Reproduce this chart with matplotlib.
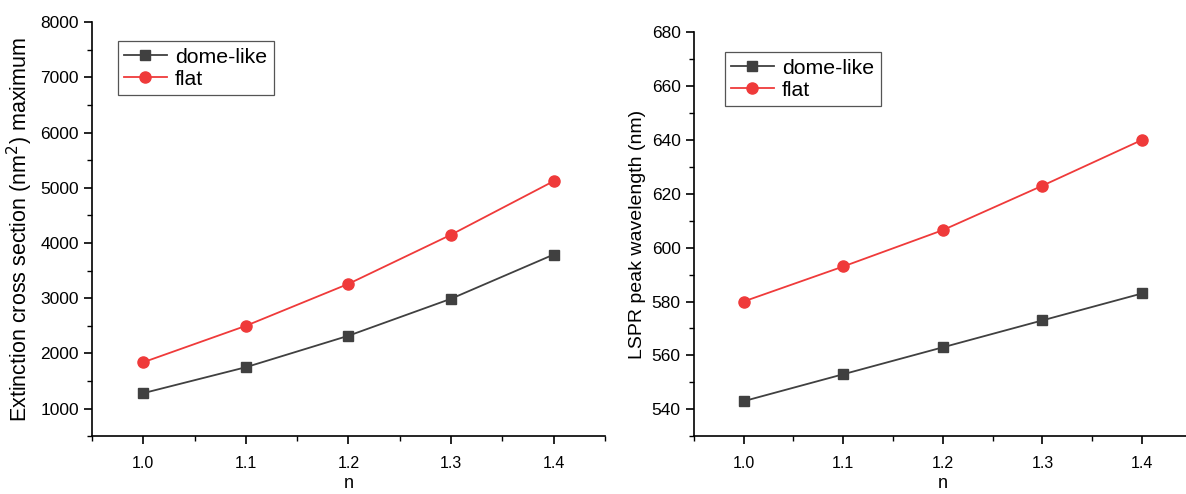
import matplotlib.pyplot as plt
from matplotlib.ticker import MultipleLocator

plt.rcParams['font.family'] = ['Liberation Sans', 'DejaVu Sans']

n = [1.0, 1.1, 1.2, 1.3, 1.4]
ext_dome = [1280, 1750, 2320, 2990, 3790]
ext_flat = [1840, 2500, 3260, 4150, 5120]
lspr_dome = [543, 553, 563, 573, 583]
lspr_flat = [580, 593, 606.5, 623, 640]

dark = '#404040'
red = '#ef3a3a'

fig = plt.figure(figsize=(11.86, 4.94), dpi=100)
ax1 = fig.add_axes([0.0776, 0.117, 0.4324, 0.838])
ax2 = fig.add_axes([0.585, 0.117, 0.42, 0.818])

def style(ax, ys_d, ys_f, ylim, ymaj, ymin, ylabel, ylabsize, leg_anchor):
    ax.plot(n, ys_d, color=dark, lw=1.3, marker='s', ms=7, label='dome-like')
    ax.plot(n, ys_f, color=red, lw=1.3, marker='o', ms=8, label='flat')
    ax.set_xlim(0.95, 1.45)
    ax.set_ylim(*ylim)
    ax.xaxis.set_major_locator(MultipleLocator(0.1))
    ax.xaxis.set_minor_locator(MultipleLocator(0.05))
    ax.yaxis.set_major_locator(MultipleLocator(ymaj))
    ax.yaxis.set_minor_locator(MultipleLocator(ymin))
    ax.xaxis.set_major_formatter(plt.FormatStrFormatter('%.1f'))
    for s in ['top', 'right']:
        ax.spines[s].set_visible(False)
    for s in ['left', 'bottom']:
        ax.spines[s].set_linewidth(1.2)
    ax.tick_params(which='major', direction='out', length=6, width=1.2)
    ax.tick_params(which='minor', direction='out', length=3.5, width=1.0)
    ax.tick_params(axis='x', labelsize=11.5, pad=8)
    ax.tick_params(axis='y', labelsize=12.5)
    ax.set_xlabel('n', fontsize=13, labelpad=3)
    ax.set_ylabel(ylabel, fontsize=ylabsize)
    leg = ax.legend(loc='upper left', bbox_to_anchor=leg_anchor, fontsize=15.3,
                    fancybox=False, edgecolor='#555555', framealpha=1,
                    handlelength=2.0, borderpad=0.3, labelspacing=0.15,
                    handletextpad=0.4, borderaxespad=0)
    leg.get_frame().set_linewidth(0.9)

style(ax1, ext_dome, ext_flat, (500, 8000), 1000, 500,
      'Extinction cross section (nm$^2$) maximum', 15.5, (0.05, 0.954))
style(ax2, lspr_dome, lspr_flat, (530, 680), 20, 10,
      'LSPR peak wavelength (nm)', 14, (0.062, 0.95))

fig.savefig('out.png', dpi=100)
